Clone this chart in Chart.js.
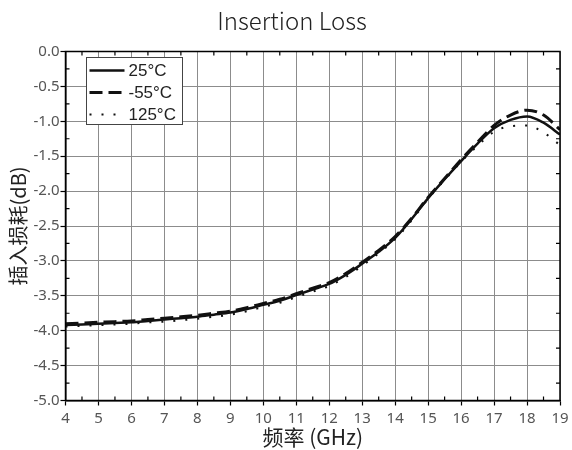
<!DOCTYPE html>
<html>
<head>
<meta charset="utf-8">
<script src="https://cdn.jsdelivr.net/npm/chart.js@4/dist/chart.umd.min.js"></script>
<style>
html,body{margin:0;padding:0;background:#fff;}
#wrap{width:572px;height:450px;}
</style>
</head>
<body>
<div id="wrap"><canvas id="c" width="572" height="450"></canvas></div>
<script>
const chartTitle = 'Insertion Loss';
const freqs = [4,4.5,5,5.5,6,6.5,7,7.5,8,8.5,9,9.5,10,10.5,11,11.5,12,12.5,13,13.5,14,14.5,15,15.5,16,16.5,17,17.5,18,18.5,19];
const loss25 = [-3.92,-3.91,-3.90,-3.89,-3.88,-3.86,-3.84,-3.82,-3.80,-3.77,-3.74,-3.69,-3.63,-3.57,-3.49,-3.41,-3.33,-3.20,-3.04,-2.87,-2.67,-2.40,-2.10,-1.83,-1.57,-1.32,-1.10,-0.98,-0.93,-1.02,-1.19];
const lossM55 = [-3.90,-3.89,-3.88,-3.87,-3.86,-3.84,-3.82,-3.80,-3.78,-3.75,-3.72,-3.67,-3.61,-3.55,-3.47,-3.39,-3.31,-3.18,-3.02,-2.85,-2.65,-2.39,-2.09,-1.82,-1.55,-1.30,-1.06,-0.91,-0.84,-0.91,-1.12];
const loss125 = [-3.94,-3.93,-3.92,-3.91,-3.90,-3.88,-3.87,-3.85,-3.83,-3.80,-3.77,-3.72,-3.66,-3.60,-3.52,-3.44,-3.36,-3.23,-3.07,-2.89,-2.69,-2.42,-2.11,-1.84,-1.58,-1.35,-1.15,-1.07,-1.06,-1.16,-1.34];
const seriesNames = ['25\u00B0C','-55\u00B0C','125\u00B0C'];
const xMinorTicks = [4.5,5.5,6.5,7.5,8.5,9.5,10.5,11.5,12.5,13.5,14.5,15.5,16.5,17.5,18.5];
const yMinorTicks = [-0.25,-0.75,-1.25,-1.75,-2.25,-2.75,-3.25,-3.75,-4.25,-4.75];

const toPts = (ys) => freqs.map((x,i)=>({x:x,y:ys[i]}));

const frame = {
  id:'frame',
  afterDatasetsDraw(chart){
    const {ctx, chartArea:a, scales:{x,y}} = chart;
    ctx.save();
    // title
    ctx.fillStyle = '#222';
    ctx.font = '300 24px "Noto Sans CJK SC", "Noto Sans", sans-serif';
    ctx.textAlign = 'center';
    ctx.textBaseline = 'middle';
    ctx.fillText(chartTitle, chart.width/2 + 6, 21);
    // frame
    ctx.strokeStyle = '#000';
    ctx.lineWidth = 1.5;
    ctx.strokeRect(a.left, a.top, a.right-a.left, a.bottom-a.top);
    ctx.lineWidth = 1.2;
    ctx.beginPath();
    xMinorTicks.forEach(v=>{
      const px = x.getPixelForValue(v);
      ctx.moveTo(px, a.bottom); ctx.lineTo(px, a.bottom-4);
      ctx.moveTo(px, a.top); ctx.lineTo(px, a.top+4);
    });
    yMinorTicks.forEach(v=>{
      const py = y.getPixelForValue(v);
      ctx.moveTo(a.left, py); ctx.lineTo(a.left+4, py);
      ctx.moveTo(a.right, py); ctx.lineTo(a.right-4, py);
    });
    ctx.stroke();
    // legend
    const bx = a.left+21, by = a.top+6, bw = 96, bh = 67;
    ctx.fillStyle = '#fff';
    ctx.fillRect(bx,by,bw,bh);
    ctx.strokeStyle = '#444';
    ctx.lineWidth = 1;
    ctx.strokeRect(bx,by,bw,bh);
    chart.data.datasets.forEach((ds,i)=>{
      const cy = by + 13 + i*22;
      ctx.save();
      ctx.strokeStyle = ds.borderColor;
      ctx.lineWidth = ds.borderWidth;
      ctx.setLineDash(ds.borderDash || []);
      ctx.beginPath();
      ctx.moveTo(bx+3, cy); ctx.lineTo(bx+38, cy);
      ctx.stroke();
      ctx.restore();
      ctx.fillStyle = '#222';
      ctx.font = '17px "Liberation Sans", Arial, sans-serif';
      ctx.textBaseline = 'middle';
      ctx.textAlign = 'left';
      ctx.fillText(ds.label, bx+42, cy+1);
    });
    ctx.restore();
  }
};

new Chart(document.getElementById('c'), {
  type:'line',
  data:{
    datasets:[
      {label:seriesNames[0], data:toPts(loss25), borderColor:'#111', borderWidth:2.5, pointRadius:0, cubicInterpolationMode:'monotone', fill:false},
      {label:seriesNames[1], data:toPts(lossM55), borderColor:'#111', borderWidth:3, borderDash:[13,6], pointRadius:0, cubicInterpolationMode:'monotone', fill:false},
      {label:seriesNames[2], data:toPts(loss125), borderColor:'#111', borderWidth:2, borderDash:[2,10], pointRadius:0, cubicInterpolationMode:'monotone', fill:false}
    ]
  },
  options:{
    responsive:false,
    animation:false,
    layout:{padding:{top:51.5, left:0, right:0, bottom:0}},
    plugins:{
      legend:{display:false},
      tooltip:{enabled:false},
      title:{display:false}
    },
    scales:{
      x:{type:'linear', min:4, max:19,
        ticks:{stepSize:1, color:'#555', padding:4, maxRotation:0, autoSkip:false,
          font:{family:'"Noto Sans", sans-serif', size:15}},
        grid:{color:'#8c8c8c', lineWidth:1, drawTicks:true, tickLength:5, tickColor:'#000', tickWidth:1.2},
        border:{display:true, color:'#000', width:1.5},
        title:{display:true, text:'频率 (GHz)', color:'#222',
          font:{family:'"Noto Sans CJK SC", sans-serif', size:21, lineHeight:1.2},
          padding:{top:0, bottom:0}},
        afterFit(s){ s.height = 49.5; s.paddingLeft = 0; s.paddingRight = 12; }
      },
      y:{type:'linear', min:-5, max:0,
        ticks:{stepSize:0.5, color:'#555', padding:1,
          font:{family:'"Noto Sans", sans-serif', size:15},
          callback:(v)=>Number(v).toFixed(1)},
        grid:{color:'#8c8c8c', lineWidth:1, drawTicks:true, tickLength:5, tickColor:'#000', tickWidth:1.2},
        border:{display:true, color:'#000', width:1.5},
        title:{display:true, text:'插入损耗(dB)', color:'#222',
          font:{family:'"Noto Sans CJK SC", sans-serif', size:20, lineHeight:1.2},
          padding:{top:6.5, bottom:0}},
        afterFit(s){ s.width = 65.5; s.paddingTop = 0; s.paddingBottom = 0; }
      }
    }
  },
  plugins:[frame]
});
</script>
</body>
</html>
